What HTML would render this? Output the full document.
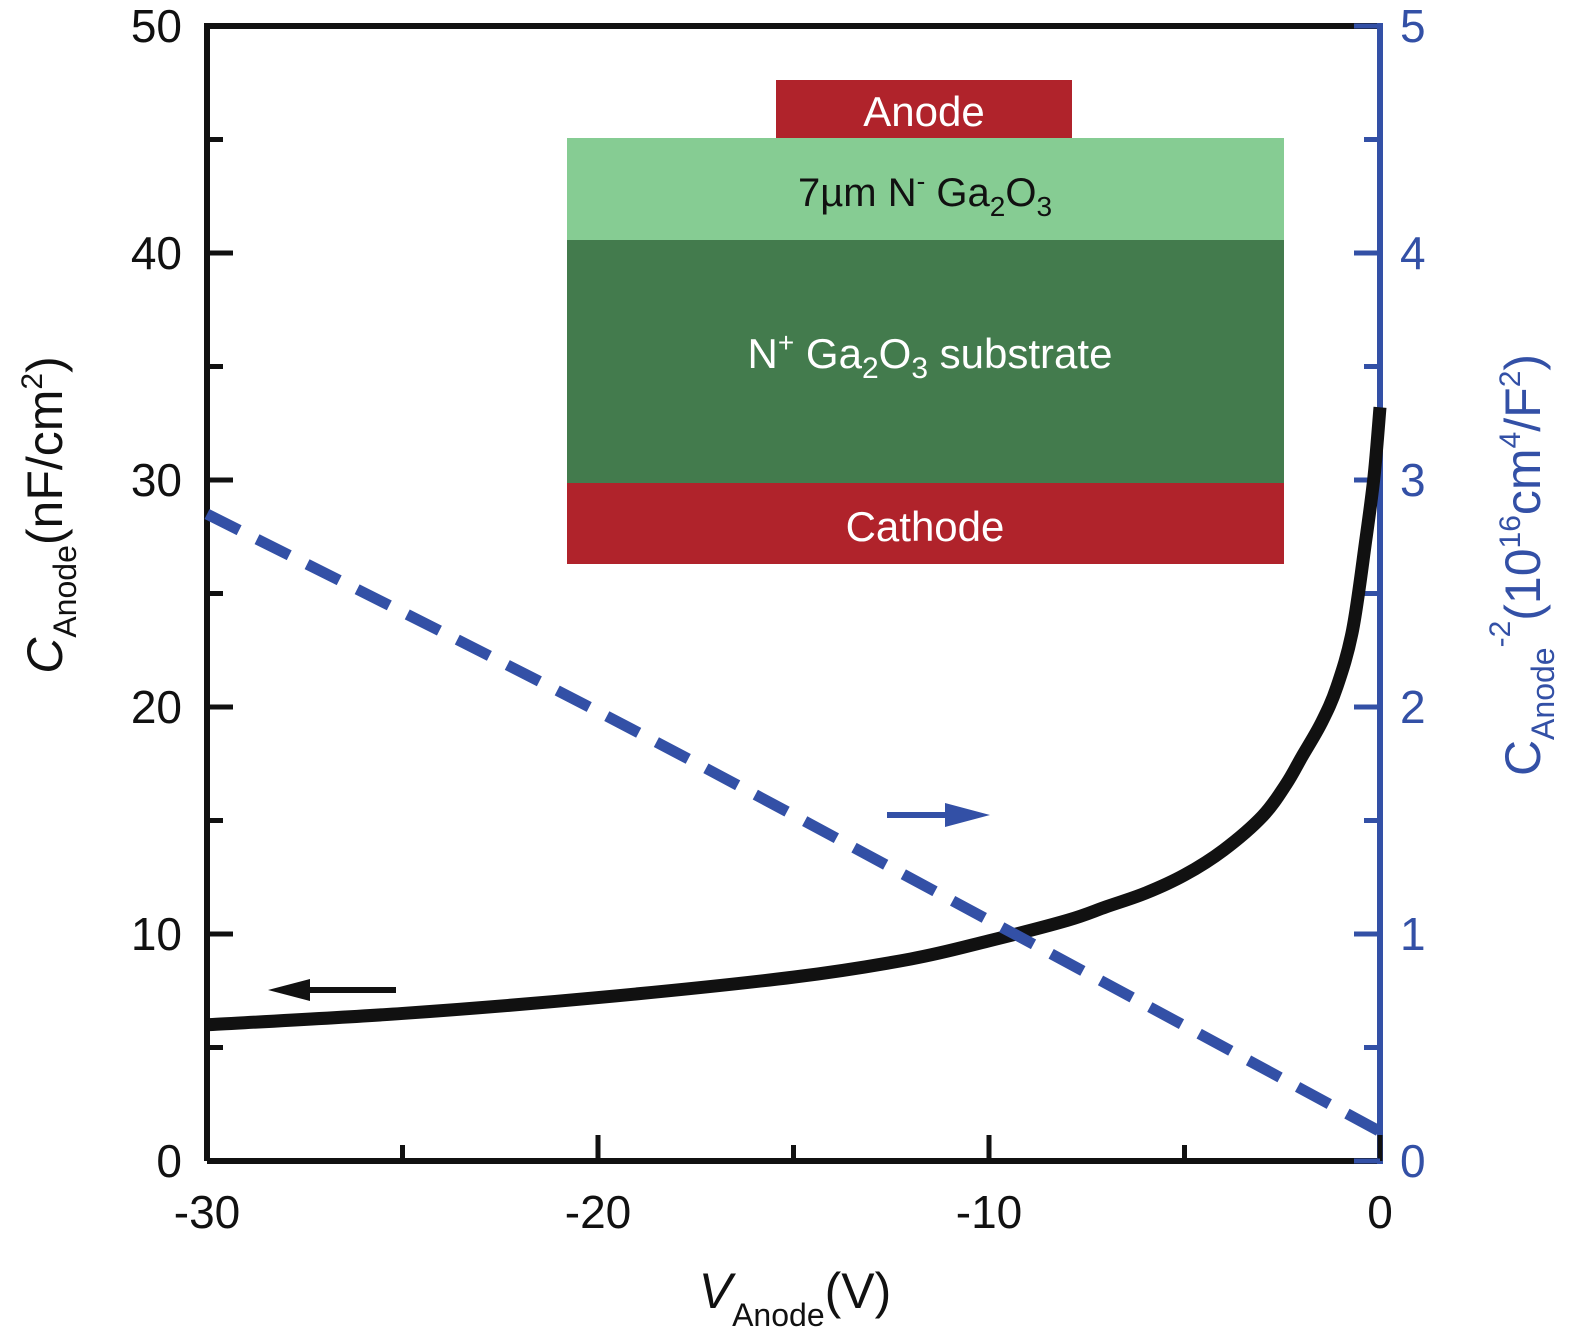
<!DOCTYPE html>
<html><head><meta charset="utf-8"><style>
html,body{margin:0;padding:0;background:#fff;}
svg{display:block;font-family:"Liberation Sans","DejaVu Sans",sans-serif;}
</style></head><body>
<svg id="chart" width="1575" height="1338" viewBox="0 0 1575 1338">
<g id="inset">
<rect x="776" y="80" width="296" height="58" fill="#b0232b"/>
<text x="924" y="126" font-size="42" fill="#fff" text-anchor="middle">Anode</text>
<rect x="567" y="138" width="717" height="102" fill="#86cc93"/>
<text x="925" y="206" font-size="40" fill="#111" text-anchor="middle">7µm N<tspan font-size="26" dy="-16">-</tspan><tspan dy="16"> Ga</tspan><tspan font-size="28" dy="10">2</tspan><tspan dy="-10">O</tspan><tspan font-size="28" dy="10">3</tspan></text>
<rect x="567" y="240" width="717" height="243" fill="#437b4d"/>
<text x="930" y="368" font-size="42" fill="#fff" text-anchor="middle">N<tspan font-size="28" dy="-16">+</tspan><tspan dy="16"> Ga</tspan><tspan font-size="30" dy="10">2</tspan><tspan dy="-10">O</tspan><tspan font-size="30" dy="10">3</tspan><tspan dy="-10"> substrate</tspan></text>
<rect x="567" y="483" width="717" height="81" fill="#b0232b"/>
<text x="925" y="541" font-size="42" fill="#fff" text-anchor="middle">Cathode</text>
</g>
<g id="axes"></g>
<g id="series"></g>
<text x="0" y="0" font-size="50" fill="#111" text-anchor="middle" transform="translate(62,515) rotate(-90)"><tspan font-style="italic">C</tspan><tspan font-size="32" dy="14">Anode</tspan><tspan dy="-14">(nF/cm</tspan><tspan font-size="30" dy="-20">2</tspan><tspan dy="20">)</tspan></text>
<text x="0" y="0" font-size="50" fill="#3350a6" text-anchor="middle" transform="translate(1540,565) rotate(-90)"><tspan>C</tspan><tspan font-size="32" dy="14">Anode</tspan><tspan font-size="30" dy="-44">-2</tspan><tspan dy="30">(10</tspan><tspan font-size="30" dy="-20">16</tspan><tspan dy="20">cm</tspan><tspan font-size="30" dy="-20">4</tspan><tspan dy="20">/F</tspan><tspan font-size="30" dy="-20">2</tspan><tspan dy="20">)</tspan></text>
<text x="795" y="1308" font-size="50" fill="#111" text-anchor="middle"><tspan font-style="italic">V</tspan><tspan font-size="32" dy="18">Anode</tspan><tspan dy="-18">(V)</tspan></text>
</svg>
<script>
const xTicks=[-30,-20,-10,0];
const yLeftTicks=[0,10,20,30,40,50];
const yRightTicks=[0,1,2,3,4,5];
const capV=[-30,-25,-20,-15,-12,-10,-8,-7,-6,-5,-4,-3,-2.4,-2,-1.5,-1.1,-0.7,-0.36,-0.15,0];
const capC=[6.0,6.5,7.2,8.1,8.9,9.7,10.6,11.2,11.8,12.6,13.7,15.2,16.6,17.8,19.3,20.9,23.4,27.4,30.2,33.2];
const invV=[-30,-20,-10,0];
const invC=[2.85,1.98,1.06,0.13];
const NS="http://www.w3.org/2000/svg";
const X0=207,X1=1380,Y0=1161,Y1=26;
const sx=v=>X0+(v+30)/30*(X1-X0);
const syL=v=>Y0-v/50*(Y0-Y1);
const syR=v=>Y0-v/5*(Y0-Y1);
function mk(tag,attrs,parent){const e=document.createElementNS(NS,tag);for(const k in attrs)e.setAttribute(k,attrs[k]);parent.appendChild(e);return e;}
const ax=document.getElementById('axes');
let e;
e=mk('path',{d:`M${X0} ${Y0}V${Y1}H${X1}`,fill:'none',stroke:'#111','stroke-width':6},ax);


e=mk('line',{x1:X0,y1:Y0,x2:X1,y2:Y0,stroke:'#111','stroke-width':6},ax);


e=mk('line',{x1:X1,y1:Y0+3,x2:X1,y2:Y1-3,stroke:'#3350a6','stroke-width':6},ax);


for(let v=-30;v<=0;v+=5){const maj=v%10===0;
 e=mk('line',{x1:sx(v),y1:Y0,x2:sx(v),y2:Y0-(maj?26:16),stroke:'#111','stroke-width':5},ax);
 
 }
xTicks.forEach(v=>{e=mk('text',{x:sx(v),y:1228,'font-size':46,'text-anchor':'middle',fill:'#111'},ax);e.textContent=String(v);
 
 });
for(let v=0;v<=50;v+=5){const maj=v%10===0;
 e=mk('line',{x1:X0,y1:syL(v),x2:X0+(maj?26:16),y2:syL(v),stroke:'#111','stroke-width':5},ax);
 
 
 e=mk('line',{x1:X1,y1:syR(v/10),x2:X1-(maj?26:16),y2:syR(v/10),stroke:'#3350a6','stroke-width':5},ax);
 
 }
yLeftTicks.forEach(v=>{e=mk('text',{x:182,y:syL(v)+16,'font-size':46,'text-anchor':'end',fill:'#111'},ax);e.textContent=String(v);
 
 });
yRightTicks.forEach(v=>{e=mk('text',{x:1400,y:syR(v)+16,'font-size':46,'text-anchor':'start',fill:'#3350a6'},ax);e.textContent=String(v);
 
 });
const se=document.getElementById('series');
function smooth(xs,ys){let d=`M${xs[0]} ${ys[0]}`;for(let i=1;i<xs.length;i++){const p0=i>1?[xs[i-2],ys[i-2]]:[xs[i-1],ys[i-1]],p1=[xs[i-1],ys[i-1]],p2=[xs[i],ys[i]],p3=i<xs.length-1?[xs[i+1],ys[i+1]]:p2;
 d+=` C${p1[0]+(p2[0]-p0[0])/6} ${p1[1]+(p2[1]-p0[1])/6} ${p2[0]-(p3[0]-p1[0])/6} ${p2[1]-(p3[1]-p1[1])/6} ${p2[0]} ${p2[1]}`;}return d;}
e=mk('path',{d:smooth(capV.map(sx),capC.map(syL)),fill:'none',stroke:'#111','stroke-width':13,'stroke-linejoin':'round'},se);


e=mk('path',{d:smooth(invV.map(sx),invC.map(syR)),fill:'none',stroke:'#3350a6','stroke-width':11,'stroke-dasharray':'36 20'},se);


e=mk('line',{x1:396,y1:990,x2:300,y2:990,stroke:'#111','stroke-width':6},se);


e=mk('polygon',{points:'268,990 310,979 310,1001',fill:'#111'},se);


e=mk('line',{x1:887,y1:815,x2:955,y2:815,stroke:'#3350a6','stroke-width':6},se);


e=mk('polygon',{points:'990,815 945,803 945,827',fill:'#3350a6'},se);


</script>
</body></html>
